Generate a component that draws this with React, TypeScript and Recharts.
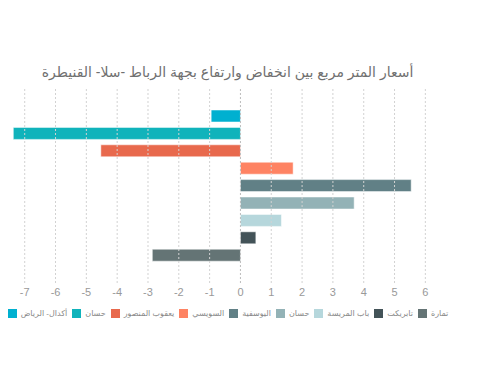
import {
    BarChart,
    Bar,
    XAxis,
    YAxis,
    Legend,
    ReferenceLine,
} from 'recharts'

const categorie = ['الجهة']

const quartiers = [
    'أكدال- الرياض',
    'حسان',
    'يعقوب المنصور',
    'السويسي',
    'اليوسفية',
    'حسان ',
    'باب المريسة',
    'تابريكت',
    'تمارة',
]

const variations = [-0.95, -7.37, -4.53, 1.71, 5.54, 3.69, 1.33, 0.5, -2.86]

const couleurs = [
    '#00b0d0',
    '#10b3bb',
    '#e8694d',
    '#fe8363',
    '#618086',
    '#93b2b6',
    '#b6d7dc',
    '#435358',
    '#647475',
]

const ticksX = [-7, -6, -5, -4, -3, -2, -1, 0, 1, 2, 3, 4, 5, 6]

const dados = categorie.map((nom) => {
    const ligne: Record<string, string | number> = { nom }
    quartiers.forEach((q, i) => {
        ligne['s' + i] = variations[i]
    })
    return ligne
})

const fonte = '"Liberation Sans", Arial, "DejaVu Sans", sans-serif'

// legende compacte, une seule ligne comme dans l'original
function Legende() {
    return (
        <div
            style={{
                display: 'flex',
                justifyContent: 'center',
                alignItems: 'center',
                height: 14,
                gap: 5,
                whiteSpace: 'nowrap',
            }}
        >
            {quartiers.map((q, i) => (
                <div key={i} style={{ display: 'flex', alignItems: 'center' }}>
                    <span style={{ width: 9, height: 9, background: couleurs[i], marginRight: 4 }} />
                    <span style={{ color: '#888', fontSize: 8 }}>{q}</span>
                </div>
            ))}
        </div>
    )
}

function App() {
    return (
        <div style={{ position: 'absolute', left: 0, top: 0, width: 495, height: 385, fontFamily: fonte }}>
            <div
                style={{
                    position: 'absolute',
                    left: 0,
                    top: 64,
                    width: 455,
                    textAlign: 'center',
                    fontSize: 14,
                    color: '#707070',
                    direction: 'rtl',
                }}
            >
                أسعار المتر مربع بين انخفاض وارتفاع بجهة الرباط -سلا- القنيطرة
            </div>
            <BarChart
                width={495}
                height={385}
                data={dados}
                layout="vertical"
                margin={{ top: 89, right: 53, bottom: 68, left: 13 }}
                barSize={12}
                barGap={5.4}
            >
                <XAxis
                    type="number"
                    domain={[-7.38, 6.54]}
                    ticks={ticksX}
                    allowDataOverflow
                    axisLine={false}
                    tickLine={false}
                    tickSize={5}
                    tickMargin={0}
                    height={20}
                    tick={{ fontSize: 11, fill: '#999', fontFamily: fonte }}
                />
                <YAxis type="category" dataKey="nom" hide />
                {ticksX.map((t) => (
                    <ReferenceLine
                        key={t}
                        x={t}
                        stroke={t === 0 ? '#bdbdbd' : '#d2d2d2'}
                        strokeDasharray="2 2"
                    />
                ))}
                {quartiers.map((q, i) => (
                    <Bar
                        key={i}
                        dataKey={'s' + i}
                        name={q}
                        fill={couleurs[i]}
                        stroke="rgba(255,255,255,0.5)"
                        strokeWidth={1}
                        isAnimationActive={false}
                    />
                ))}
                <Legend
                    verticalAlign="bottom"
                    content={() => <Legende />}
                    wrapperStyle={{ position: 'absolute', top: 306, left: -20, width: 496 }}
                />
            </BarChart>
        </div>
    )
}

export default App
